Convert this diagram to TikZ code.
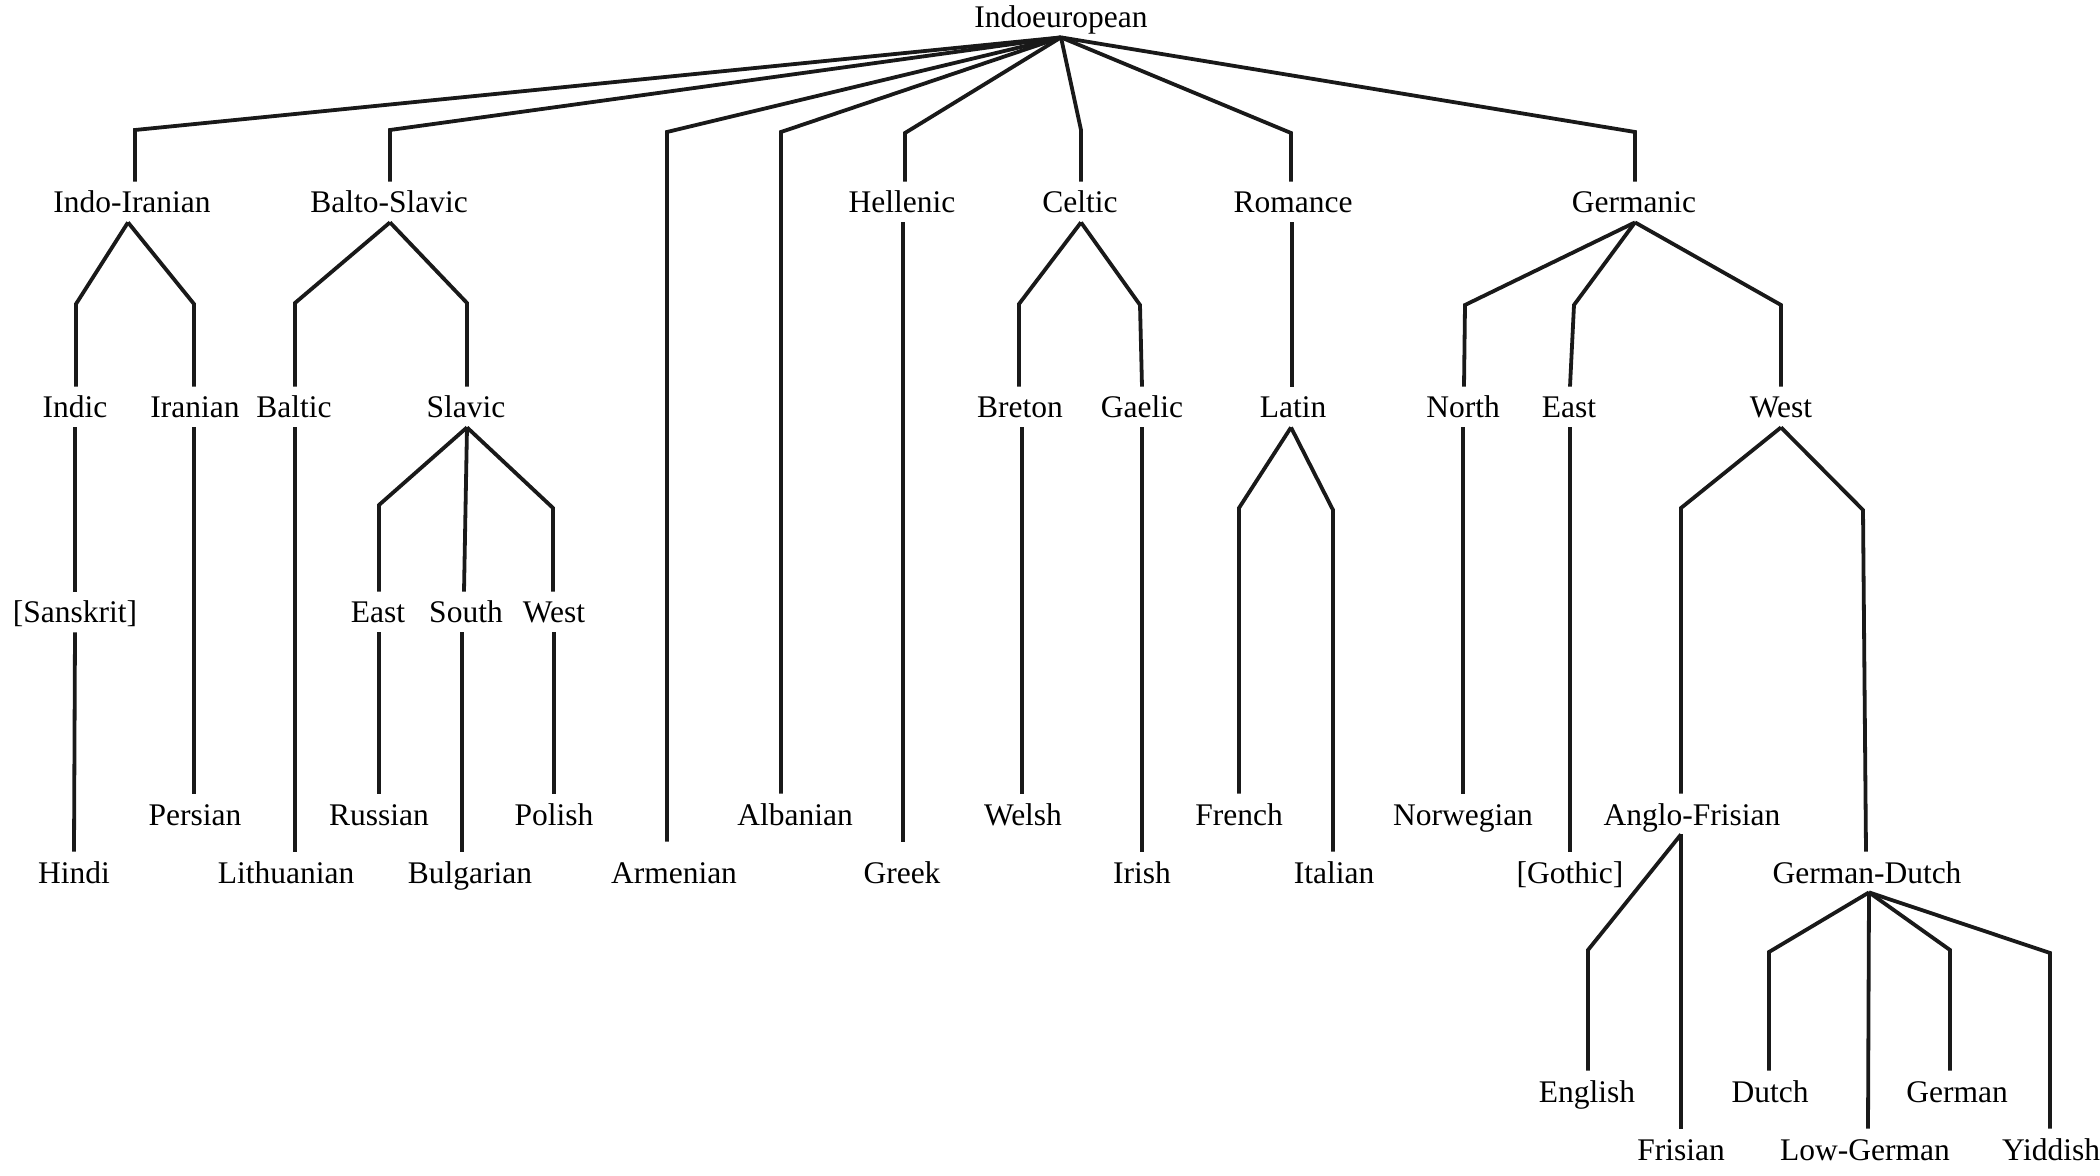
\documentclass[tikz,border=0pt]{standalone}
\usepackage{fontspec}
\setmainfont{Liberation Serif}
\begin{document}
\begin{tikzpicture}[x=0.5pt,y=-0.5pt,
  lang/.style={anchor=base, inner sep=0pt, text height=15.5pt, text depth=4.5pt,
               font=\fontsize{15.75pt}{18pt}\selectfont},
  branch/.style={line width=1.9pt, line join=miter, draw=black!90}]
\useasboundingbox (0,0) rectangle (2100,1176);

% ---- languages, placed by baseline ----
\node[lang] (ie)  at (1061,28) {Indoeuropean};

\node[lang] (ii)  at (132,213)  {Indo-Iranian};
\node[lang] (bs)  at (389,213)  {Balto-Slavic};
\node[lang] (hel) at (902,213)  {Hellenic};
\node[lang] (cel) at (1080,213) {Celtic};
\node[lang] (rom) at (1293,213) {Romance};
\node[lang] (ger) at (1634,213) {Germanic};

\node[lang] (ind) at (75,418)   {Indic};
\node[lang] (ira) at (195,418)  {Iranian};
\node[lang] (bal) at (294,418)  {Baltic};
\node[lang] (sla) at (466,418)  {Slavic};
\node[lang] (bre) at (1020,418) {Breton};
\node[lang] (gae) at (1142,418) {Gaelic};
\node[lang] (lat) at (1293,418) {Latin};
\node[lang] (gno) at (1463,418) {North};
\node[lang] (gea) at (1569,418) {East};
\node[lang] (gwe) at (1781,418) {West};

\node[lang] (skt) at (75,623)  {[Sanskrit]};
\node[lang] (sea) at (378,623) {East};
\node[lang] (sso) at (466,623) {South};
\node[lang] (swe) at (554,623) {West};

\node[lang] (per) at (195,825)  {Persian};
\node[lang] (rus) at (379,825)  {Russian};
\node[lang] (pol) at (554,825)  {Polish};
\node[lang] (alb) at (795,825)  {Albanian};
\node[lang] (wel) at (1023,825) {Welsh};
\node[lang] (fre) at (1239,825) {French};
\node[lang] (nrw) at (1463,825) {Norwegian};
\node[lang] (af)  at (1692,825) {Anglo-Frisian};

\node[lang] (hin) at (74,883)   {Hindi};
\node[lang] (lit) at (286,883)  {Lithuanian};
\node[lang] (bul) at (470,883)  {Bulgarian};
\node[lang] (arm) at (674,883)  {Armenian};
\node[lang] (gre) at (902,883)  {Greek};
\node[lang] (iri) at (1142,883) {Irish};
\node[lang] (ita) at (1334,883) {Italian};
\node[lang] (got) at (1570,883) {[Gothic]};
\node[lang] (gd)  at (1867,883) {German-Dutch};

\node[lang] (eng) at (1587,1102) {English};
\node[lang] (dut) at (1770,1102) {Dutch};
\node[lang] (deu) at (1957,1102) {German};

\node[lang] (fri) at (1681,1160) {Frisian};
\node[lang] (low) at (1865,1160) {Low-German};
\node[lang] (yid) at (2051,1160) {Yiddish};

% ---- Indoeuropean to the main branches ----
\draw[branch] (ie.south) -- (135,130)  -- (135,0 |- ii.north);
\draw[branch] (ie.south) -- (390,130)  -- (390,0 |- bs.north);
\draw[branch, shorten >=5pt] (ie.south) -- (667,132) -- (667,0 |- arm.north);
\draw[branch] (ie.south) -- (781,132)  -- (781,0 |- alb.north);
\draw[branch] (ie.south) -- (905,133)  -- (905,0 |- hel.north);
\draw[branch] (ie.south) -- (1081,130) -- (1081,0 |- cel.north);
\draw[branch] (ie.south) -- (1291,133) -- (1291,0 |- rom.north);
\draw[branch] (ie.south) -- (1635,132) -- (1635,0 |- ger.north);

% ---- Indo-Iranian ----
\draw[branch] (128,0 |- ii.south) -- (76,304)  -- (76,0 |- ind.north);
\draw[branch] (128,0 |- ii.south) -- (194,304) -- (194,0 |- ira.north);
\draw[branch] (ind.south) -- (skt.north);
\draw[branch] (skt.south) -- (hin.north);
\draw[branch] (194,0 |- ira.south) -- (194,0 |- per.north);

% ---- Balto-Slavic ----
\draw[branch] (bs.south -| 390,0) -- (295,303) -- (295,0 |- bal.north);
\draw[branch] (bs.south -| 390,0) -- (467,303) -- (467,0 |- sla.north);
\draw[branch] (295,0 |- bal.south) -- (295,0 |- lit.north);
\draw[branch] (467,0 |- sla.south) -- (379,505) -- (379,0 |- sea.north);
\draw[branch] (467,0 |- sla.south) -- (464,0 |- sso.north);
\draw[branch] (467,0 |- sla.south) -- (553,508) -- (553,0 |- swe.north);
\draw[branch] (379,0 |- sea.south) -- (379,0 |- rus.north);
\draw[branch] (462,0 |- sso.south) -- (462,0 |- bul.north);
\draw[branch] (554,0 |- swe.south) -- (554,0 |- pol.north);

% ---- Hellenic ----
\draw[branch, shorten >=5pt] (903,0 |- hel.south) -- (903,0 |- gre.north);

% ---- Celtic ----
\draw[branch] (1081,0 |- cel.south) -- (1019,304) -- (1019,0 |- bre.north);
\draw[branch] (1081,0 |- cel.south) -- (1140,305) -- (1142,0 |- gae.north);
\draw[branch] (1022,0 |- bre.south) -- (1022,0 |- wel.north);
\draw[branch] (gae.south) -- (iri.north);

% ---- Romance ----
\draw[branch] (1292,0 |- rom.south) -- (1292,0 |- lat.north);
\draw[branch] (1291,0 |- lat.south) -- (1239,508) -- (1239,0 |- fre.north);
\draw[branch] (1291,0 |- lat.south) -- (1333,510) -- (1333,0 |- ita.north);

% ---- Germanic ----
\draw[branch] (1635,0 |- ger.south) -- (1465,305) -- (1464,0 |- gno.north);
\draw[branch] (1635,0 |- ger.south) -- (1574,305) -- (1570,0 |- gea.north);
\draw[branch] (1635,0 |- ger.south) -- (1781,305) -- (1781,0 |- gwe.north);
\draw[branch] (gno.south) -- (nrw.north);
\draw[branch] (1570,0 |- gea.south) -- (1570,0 |- got.north);
\draw[branch] (gwe.south) -- (1681,508) -- (1681,0 |- af.north);
\draw[branch] (gwe.south) -- (1863,510) -- (1866,0 |- gd.north);

% ---- Anglo-Frisian ----
\draw[branch] (1681,0 |- af.south) -- (1588,950) -- (1588,0 |- eng.north);
\draw[branch] (1681,0 |- af.south) -- (1681,0 |- fri.north);

% ---- German-Dutch ----
\draw[branch] (1869,0 |- gd.south) -- (1769,952) -- (1769,0 |- dut.north);
\draw[branch] (1869,0 |- gd.south) -- (1868,0 |- low.north);
\draw[branch] (1869,0 |- gd.south) -- (1950,950) -- (1950,0 |- deu.north);
\draw[branch] (1869,0 |- gd.south) -- (2050,953) -- (2050,0 |- yid.north);
\end{tikzpicture}
\end{document}
